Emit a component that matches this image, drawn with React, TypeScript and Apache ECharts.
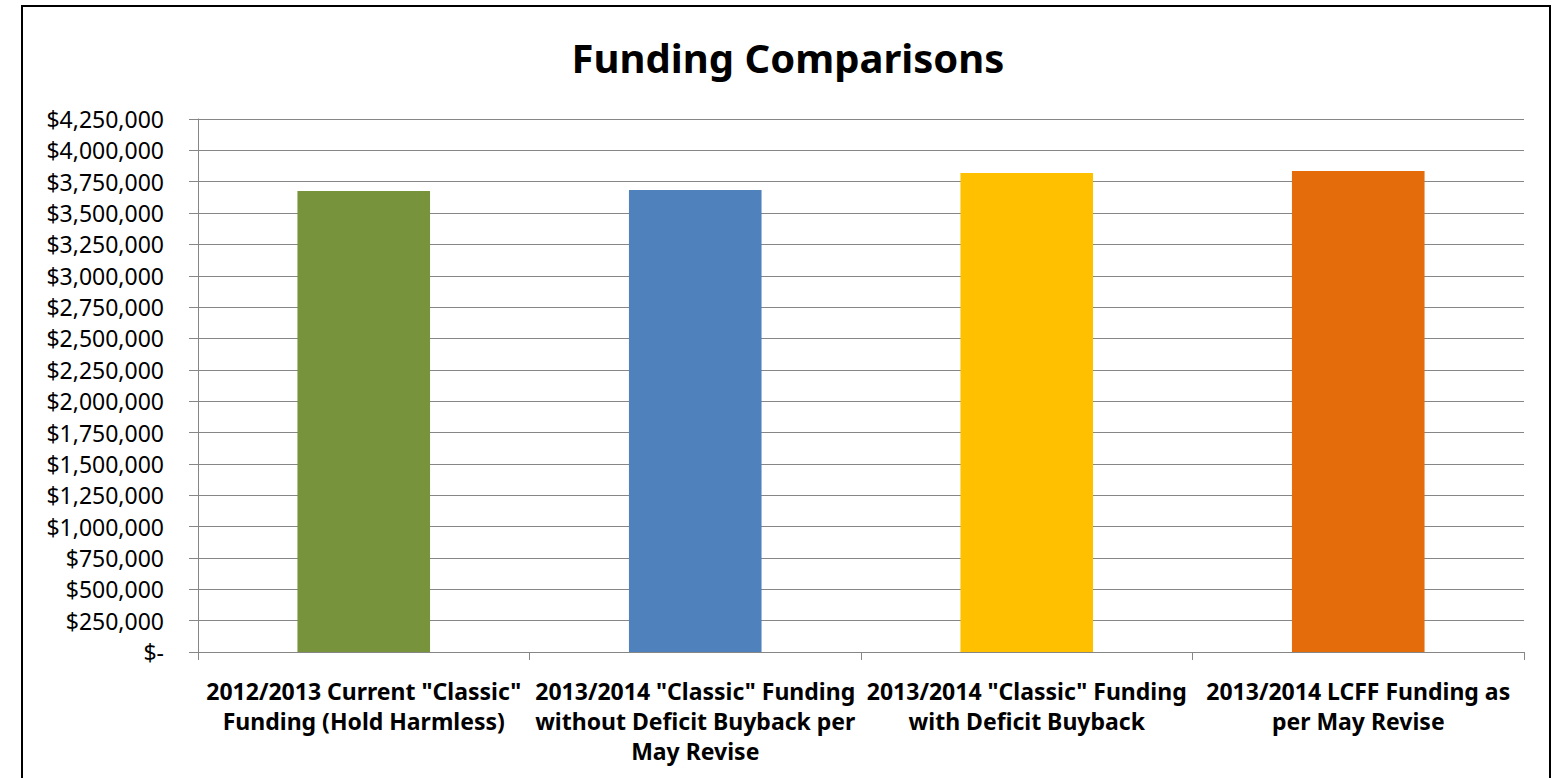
import React, { useEffect, useRef } from "react";
import * as echarts from "echarts";

const titleText = "Funding Comparisons";
const categories = [
  '2012/2013 Current "Classic"\nFunding (Hold Harmless)',
  '2013/2014 "Classic" Funding\nwithout Deficit Buyback per\nMay Revise',
  '2013/2014 "Classic" Funding\nwith Deficit Buyback',
  '2013/2014 LCFF Funding as\nper May Revise',
];
const values = [3676000, 3684000, 3820000, 3836000];
const barColors = ["#77933C", "#4F81BD", "#FFC000", "#E46C0A"];
const yMin = 0;
const yMax = 4250000;
const yStep = 250000;

export default function App() {
  const ref = useRef<HTMLDivElement>(null);
  useEffect(() => {
    if (!ref.current) return;
    const chart = echarts.init(ref.current, undefined, { renderer: "svg" });
    const gridColor = "#868686";
    chart.setOption({
      animation: false,
      backgroundColor: "#ffffff",
      graphic: [
        {
          type: "rect",
          shape: { x: 22, y: 6, width: 1528, height: 800 },
          style: { fill: "none", stroke: "#000000", lineWidth: 2 },
          silent: true,
        },
        {
          type: "text",
          x: 788,
          y: 57,
          style: {
            text: titleText,
            fontFamily: "Noto Sans",
            fontWeight: "bold",
            fontSize: 40,
            fill: "#000000",
            align: "center",
            verticalAlign: "middle",
          },
        },
      ],
      grid: { left: 198, right: 33, top: 119, bottom: 126, containLabel: false },
      xAxis: {
        type: "category",
        data: categories,
        axisLine: { show: true, lineStyle: { color: gridColor, width: 1 } },
        axisTick: { show: true, alignWithLabel: false, length: 8, lineStyle: { color: gridColor } },
        axisLabel: {
          interval: 0,
          margin: 24,
          color: "#000000",
          fontFamily: "Noto Sans",
          fontWeight: "bold",
          fontSize: 23,
          lineHeight: 30,
        },
        splitLine: { show: false },
      },
      yAxis: {
        type: "value",
        min: yMin,
        max: yMax,
        interval: yStep,
        axisLine: { show: true, lineStyle: { color: gridColor, width: 1 } },
        axisTick: { show: true, length: 9, lineStyle: { color: gridColor } },
        splitLine: { show: true, lineStyle: { color: gridColor, width: 1 } },
        axisLabel: {
          margin: 34,
          color: "#000000",
          fontFamily: "Noto Sans",
          fontSize: 23,
          formatter: (v: number) => (v === 0 ? "$-" : "$" + v.toLocaleString("en-US")),
        },
      },
      series: [
        {
          type: "bar",
          barWidth: "40%",
          data: values.map((v, i) => ({ value: v, itemStyle: { color: barColors[i] } })),
        },
      ],
    });
    return () => chart.dispose();
  }, []);
  return (
    <div
      ref={ref}
      style={{ position: "fixed", left: 0, top: 0, width: 1557, height: 778, background: "#fff" }}
    />
  );
}
